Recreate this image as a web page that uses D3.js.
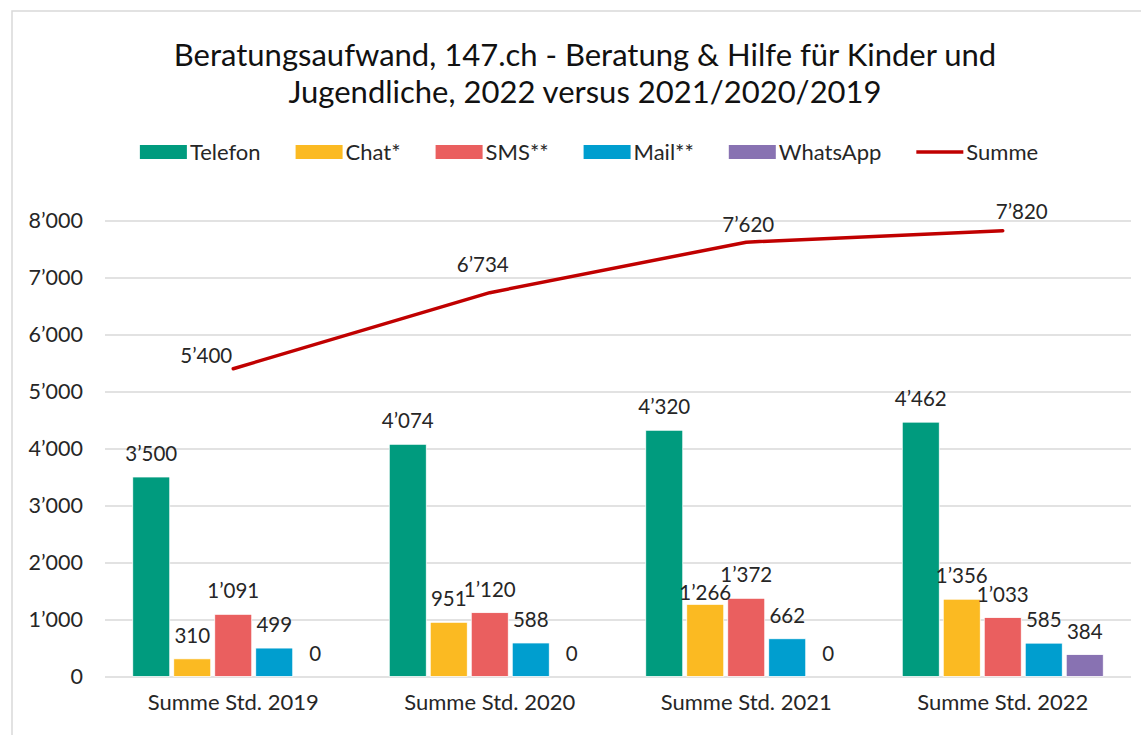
<!DOCTYPE html>
<html>
<head>
<meta charset="utf-8">
<script src="https://cdn.jsdelivr.net/npm/d3@7"></script>
<style>
  body { margin: 0; background: #fff; }
  svg { display: block; font-family: Lato, "Open Sans", sans-serif; }
</style>
</head>
<body>
<svg id="chart" width="1141" height="735"></svg>
<script>
// data
var categories = ["Summe Std. 2019", "Summe Std. 2020", "Summe Std. 2021", "Summe Std. 2022"];
var seriesNames = ["Telefon", "Chat*", "SMS**", "Mail**", "WhatsApp"];
var telefon = [3500, 4074, 4320, 4462];
var chat = [310, 951, 1266, 1356];
var sms = [1091, 1120, 1372, 1033];
var mail = [499, 588, 662, 585];
var whatsapp = [0, 0, 0, 384];
var summe = [5400, 6734, 7620, 7820];
var yTicks = [0, 1000, 2000, 3000, 4000, 5000, 6000, 7000, 8000];

var titleLines = ["Beratungsaufwand, 147.ch - Beratung & Hilfe für Kinder und",
                  "Jugendliche, 2022 versus 2021/2020/2019"];

var barColours = ["#009B7E", "#FBBA22", "#EA5F5F", "#009ECF", "#8872B2"];
var lineColour = "#C00000";

// hand placed labels (like in the original sheet)
var summeLabelShift = [[-27, -6], [-7, -21], [2, -10], [19, -12]];
var barLabelShift = {"2|1": [0, 12]};

var series = [telefon, chat, sms, mail, whatsapp];

var swiss = d3.formatLocale({decimal: ".", thousands: "\u2019", grouping: [3], currency: ["", ""]});
var fmt = swiss.format(",");

var svg = d3.select("#chart");
var textColour = "#262626";

// outer frame of the chart object
svg.append("rect")
    .attr("x", 12).attr("y", 11)
    .attr("width", 1200).attr("height", 800)
    .attr("fill", "#fff")
    .attr("stroke", "#d9d9d9")
    .attr("stroke-width", 1.5);

// title
svg.append("g").selectAll("text")
    .data(titleLines)
    .join("text")
    .attr("x", 585)
    .attr("y", (d, i) => 66 + i * 37)
    .attr("text-anchor", "middle")
    .attr("font-size", 31)
    .attr("fill", "#111")
    .text(d => d);

// scales
var xScale = d3.scaleBand()
    .domain(categories)
    .range([105, 1131]);

var xInner = d3.scaleBand()
    .domain(d3.range(seriesNames.length))
    .range([0, xScale.bandwidth()])
    .paddingInner(0.0976)
    .paddingOuter(0.677);

var yScale = d3.scaleLinear()
    .domain([0, 8000])
    .range([676.5, 220.5]);

// gridlines + y axis labels
var yAxis = svg.append("g")
    .attr("transform", "translate(105,0)")
    .call(d3.axisLeft(yScale).tickValues(yTicks).tickFormat(fmt)
        .tickSize(-(1131 - 105)).tickPadding(22));
yAxis.select(".domain").remove();
yAxis.selectAll(".tick line").attr("stroke", "#d9d9d9").attr("stroke-width", 1.5);
yAxis.selectAll(".tick text")
    .attr("fill", textColour)
    .attr("font-size", 21.5)
    .attr("font-family", "Lato, sans-serif");

// x axis labels
var xAxis = svg.append("g")
    .attr("transform", "translate(0,676.5)")
    .call(d3.axisBottom(xScale).tickSize(0).tickPadding(18));
xAxis.select(".domain").remove();
xAxis.selectAll(".tick text")
    .attr("fill", textColour)
    .attr("font-size", 22)
    .attr("font-family", "Lato, sans-serif");

// bars
var groups = svg.append("g").selectAll("g")
    .data(categories)
    .join("g")
    .attr("transform", d => `translate(${xScale(d)},0)`);

groups.selectAll("rect")
    .data((d, ci) => series.map((s, si) => ({ci: ci, si: si, value: s[ci]})))
    .join("rect")
    .attr("x", d => xInner(d.si))
    .attr("width", xInner.bandwidth())
    .attr("y", d => yScale(d.value))
    .attr("height", d => yScale(0) - yScale(d.value))
    .attr("fill", d => barColours[d.si])
    .attr("stroke", "#fff")
    .attr("stroke-width", 0.75);

groups.selectAll("text")
    .data((d, ci) => series.map((s, si) => ({ci: ci, si: si, value: s[ci]})))
    .join("text")
    .attr("x", d => xInner(d.si) + xInner.bandwidth() / 2 + (barLabelShift[d.ci + "|" + d.si] || [0, 0])[0])
    .attr("y", d => yScale(d.value) - 16 + (barLabelShift[d.ci + "|" + d.si] || [0, 0])[1])
    .attr("text-anchor", "middle")
    .attr("font-size", 20.5)
    .attr("fill", textColour)
    .text(d => fmt(d.value));

// summe line
var lineGen = d3.line()
    .x((d, i) => xScale(categories[i]) + xScale.bandwidth() / 2)
    .y(d => yScale(d));

svg.append("path")
    .datum(summe)
    .attr("d", lineGen)
    .attr("fill", "none")
    .attr("stroke", lineColour)
    .attr("stroke-width", 3.5)
    .attr("stroke-linecap", "round")
    .attr("stroke-linejoin", "round");

svg.append("g").selectAll("text")
    .data(summe)
    .join("text")
    .attr("x", (d, i) => xScale(categories[i]) + xScale.bandwidth() / 2 + summeLabelShift[i][0])
    .attr("y", (d, i) => yScale(d) + summeLabelShift[i][1])
    .attr("text-anchor", "middle")
    .attr("font-size", 20.5)
    .attr("fill", textColour)
    .text(d => fmt(d));

// legend, laid out left to right and centred
var legendItems = seriesNames.map((n, i) => ({name: n, colour: barColours[i], type: "bar"}))
    .concat([{name: "Summe", colour: lineColour, type: "line"}]);

var legendGap = 35;
var legend = svg.append("g");
var cursor = 0;
legendItems.forEach(function(item) {
    var g = legend.append("g").attr("transform", `translate(${cursor},0)`);
    if (item.type == "bar") {
        g.append("rect").attr("x", 0).attr("y", -7).attr("width", 47).attr("height", 14)
            .attr("fill", item.colour);
    } else {
        g.append("line").attr("x1", 0).attr("x2", 47).attr("y1", 0).attr("y2", 0)
            .attr("stroke", item.colour).attr("stroke-width", 3.5);
    }
    var t = g.append("text").attr("x", 50).attr("y", 7.5)
        .attr("font-size", 22)
        .attr("fill", textColour)
        .text(item.name);
    cursor += 50 + t.node().getComputedTextLength() + legendGap;
});
var legendWidth = cursor - legendGap;
legend.attr("transform", `translate(${589 - legendWidth / 2},152)`);
</script>
</body>
</html>
